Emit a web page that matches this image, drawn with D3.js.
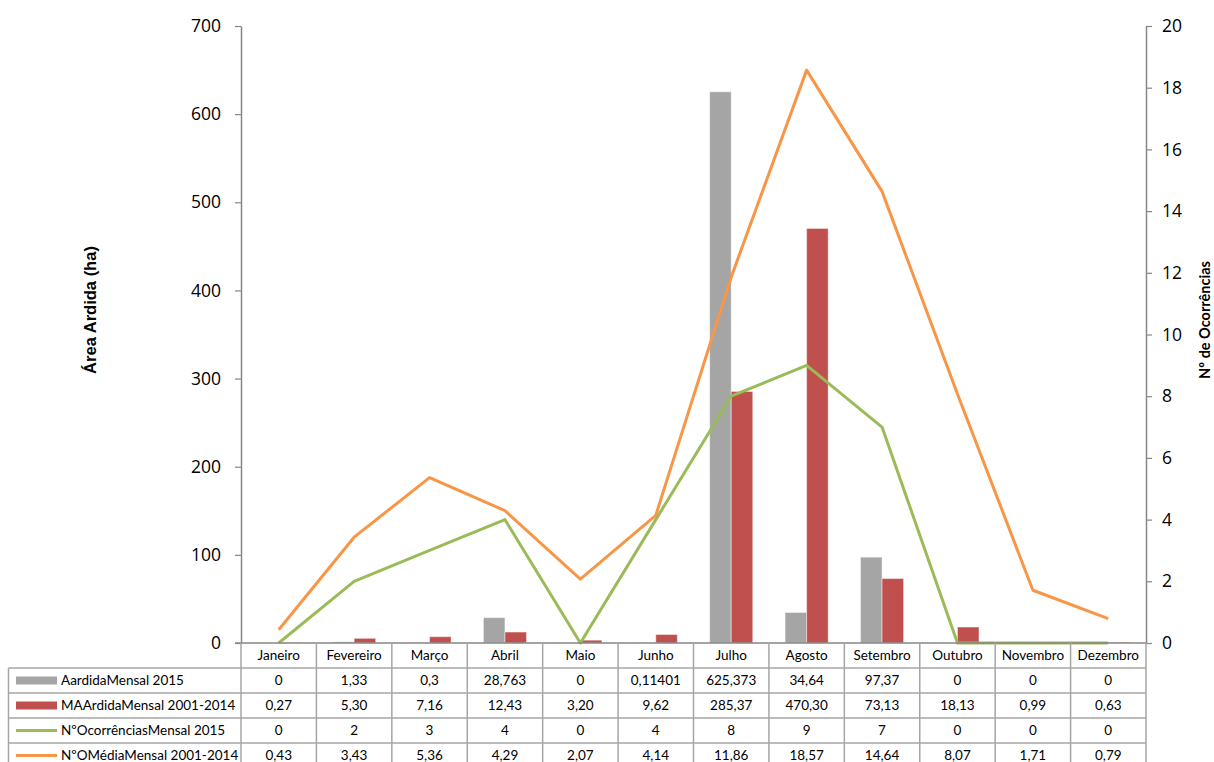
<!DOCTYPE html>
<html>
<head>
<meta charset="utf-8">
<script src="https://cdn.jsdelivr.net/npm/d3@7"></script>
<style>
  html, body { margin: 0; padding: 0; background: #fff; }
  svg { display: block; }
</style>
</head>
<body>
<svg id="chart" width="1214" height="762"></svg>
<script>
// Months (table header / x categories)
const months = ["Janeiro", "Fevereiro", "Março", "Abril", "Maio", "Junho",
                "Julho", "Agosto", "Setembro", "Outubro", "Novembro", "Dezembro"];

// Burnt area (ha)
const areaArdida2015 = [0, 1.33, 0.3, 28.763, 0, 0.11401, 625.373, 34.64, 97.37, 0, 0, 0];
const mediaArdida2001_2014 = [0.27, 5.30, 7.16, 12.43, 3.20, 9.62, 285.37, 470.30, 73.13, 18.13, 0.99, 0.63];

// Number of occurrences
const ocorrencias2015 = [0, 2, 3, 4, 0, 4, 8, 9, 7, 0, 0, 0];
const mediaOcorrencias2001_2014 = [0.43, 3.43, 5.36, 4.29, 2.07, 4.14, 11.86, 18.57, 14.64, 8.07, 1.71, 0.79];

// Axis ticks
const leftTicks = [0, 100, 200, 300, 400, 500, 600, 700];
const rightTicks = [0, 2, 4, 6, 8, 10, 12, 14, 16, 18, 20];

const series = [
  { name: "AardidaMensal 2015", values: areaArdida2015, type: "bar", color: "#A5A5A5",
    fmt: v => String(v).replace(".", ",") },
  { name: "MAArdidaMensal 2001-2014", values: mediaArdida2001_2014, type: "bar", color: "#C0504D",
    fmt: v => v.toFixed(2).replace(".", ",") },
  { name: "NºOcorrênciasMensal 2015", values: ocorrencias2015, type: "line", color: "#9BBB59",
    fmt: v => String(v).replace(".", ",") },
  { name: "NºOMédiaMensal 2001-2014", values: mediaOcorrencias2001_2014, type: "line", color: "#F79646",
    fmt: v => v.toFixed(2).replace(".", ",") }
];

const svg = d3.select("#chart");
const plotLeft = 241, plotRight = 1146, plotTop = 26, plotBottom = 643;
const tableLeft = 8.5, headerH = 25, rowH = 25;
const gridColor = "#A6A6A6";
const tableFont = "Lato, 'Open Sans', sans-serif";
const tickFont = "'Open Sans', sans-serif";

const x = d3.scaleBand().domain(months).range([plotLeft, plotRight]).paddingInner(0).paddingOuter(0);
const yL = d3.scaleLinear().domain([0, 700]).range([plotBottom, plotTop]);
const yR = d3.scaleLinear().domain([0, 20]).range([plotBottom, plotTop]);

// Bars: two per month, Excel-like gap width 150%
const bw = x.bandwidth() / 3.5;
const barSeries = series.filter(s => s.type === "bar");
barSeries.forEach((s, si) => {
  svg.append("g").selectAll("rect")
    .data(s.values.map((v, i) => ({ m: months[i], v })))
    .join("rect")
    .attr("x", d => x(d.m) + 0.75 * bw + si * bw)
    .attr("y", d => yL(d.v))
    .attr("width", bw)
    .attr("height", d => plotBottom - yL(d.v))
    .attr("fill", s.color)
    .attr("stroke", "rgba(255,255,255,0.45)")
    .attr("stroke-width", 1);
});

// Lines on the secondary axis
const lineGen = d3.line()
  .x(d => x(d.m) + x.bandwidth() / 2)
  .y(d => yR(d.v));
series.filter(s => s.type === "line").forEach(s => {
  svg.append("path")
    .datum(s.values.map((v, i) => ({ m: months[i], v })))
    .attr("d", lineGen)
    .attr("fill", "none")
    .attr("stroke", s.color)
    .attr("stroke-width", 3)
    .attr("stroke-linejoin", "round");
});

// Left axis
const axL = svg.append("g").attr("transform", `translate(${plotLeft},0)`)
  .call(d3.axisLeft(yL).tickValues(leftTicks).tickSize(6).tickSizeOuter(0).tickPadding(14));
axL.select(".domain").attr("stroke", "#868686").attr("stroke-width", 1.5);
axL.selectAll(".tick line").attr("stroke", "#868686").attr("stroke-width", 1.2);
axL.selectAll(".tick text").attr("font-family", tickFont)
  .attr("font-size", 17.5).attr("fill", "#000");

// Right axis
const axR = svg.append("g").attr("transform", `translate(${plotRight},0)`)
  .call(d3.axisRight(yR).tickValues(rightTicks).tickSize(6).tickSizeOuter(0).tickPadding(10));
axR.select(".domain").attr("stroke", "#868686").attr("stroke-width", 1.5);
axR.selectAll(".tick line").attr("stroke", "#868686").attr("stroke-width", 1.2);
axR.selectAll(".tick text").attr("font-family", tickFont)
  .attr("font-size", 17.5).attr("fill", "#000");

// Horizontal category axis line
svg.append("line").attr("x1", plotLeft - 6).attr("x2", plotRight)
  .attr("y1", plotBottom).attr("y2", plotBottom)
  .attr("stroke", "#868686").attr("stroke-width", 1.5);

// Axis titles
svg.append("text")
  .attr("transform", "translate(90,310) rotate(-90)")
  .attr("text-anchor", "middle")
  .attr("dy", "0.35em")
  .attr("font-family", "'Liberation Sans', Arial, sans-serif")
  .attr("font-weight", "bold").attr("font-size", 16.5)
  .text("Área Ardida (ha)");
svg.append("text")
  .attr("transform", "translate(1205,320) rotate(-90)")
  .attr("text-anchor", "middle")
  .attr("dy", "0.35em")
  .attr("font-family", "Lato, 'Open Sans', sans-serif")
  .attr("font-weight", "bold").attr("font-size", 14.5)
  .text("Nº de Ocorrências");

// Data table
const table = svg.append("g");
const nRows = series.length;
const tableBottom = plotBottom + headerH + nRows * rowH;

// Header texts
table.selectAll("text.hdr").data(months).join("text")
  .attr("class", "hdr")
  .attr("x", d => x(d) + x.bandwidth() / 2)
  .attr("y", plotBottom + headerH / 2)
  .attr("dy", "0.35em")
  .attr("text-anchor", "middle")
  .attr("font-family", tableFont).attr("font-size", 13.5)
  .text(d => d);

// Horizontal grid lines
const hLines = d3.range(nRows + 1).map(i => plotBottom + headerH + i * rowH);
table.selectAll("line.h").data(hLines).join("line")
  .attr("x1", tableLeft).attr("x2", plotRight)
  .attr("y1", d => d).attr("y2", d => d)
  .attr("stroke", gridColor).attr("stroke-width", 1.5);

// Vertical grid lines at month boundaries
const vLines = months.map(m => x(m)).concat([plotRight]);
table.selectAll("line.v").data(vLines).join("line")
  .attr("x1", d => d).attr("x2", d => d)
  .attr("y1", plotBottom).attr("y2", tableBottom)
  .attr("stroke", gridColor).attr("stroke-width", 1.5);
table.append("line")
  .attr("x1", tableLeft).attr("x2", tableLeft)
  .attr("y1", plotBottom + headerH).attr("y2", tableBottom)
  .attr("stroke", gridColor).attr("stroke-width", 1.5);

// Rows: legend key, series name, values
series.forEach((s, r) => {
  const cy = plotBottom + headerH + r * rowH + rowH / 2;
  if (s.type === "bar") {
    table.append("rect").attr("x", 16).attr("y", cy - 4).attr("width", 41).attr("height", 8)
      .attr("fill", s.color);
  } else {
    table.append("line").attr("x1", 16).attr("x2", 57).attr("y1", cy).attr("y2", cy)
      .attr("stroke", s.color).attr("stroke-width", 3);
  }
  table.append("text").attr("x", 61).attr("y", cy).attr("dy", "0.35em")
    .attr("font-family", tableFont).attr("font-size", 13.5)
    .text(s.name);
  table.selectAll(null).data(s.values).join("text")
    .attr("x", (d, i) => x(months[i]) + x.bandwidth() / 2)
    .attr("y", cy).attr("dy", "0.35em")
    .attr("text-anchor", "middle")
    .attr("font-family", tableFont).attr("font-size", 13.5)
    .text(d => s.fmt(d));
});
</script>
</body>
</html>
